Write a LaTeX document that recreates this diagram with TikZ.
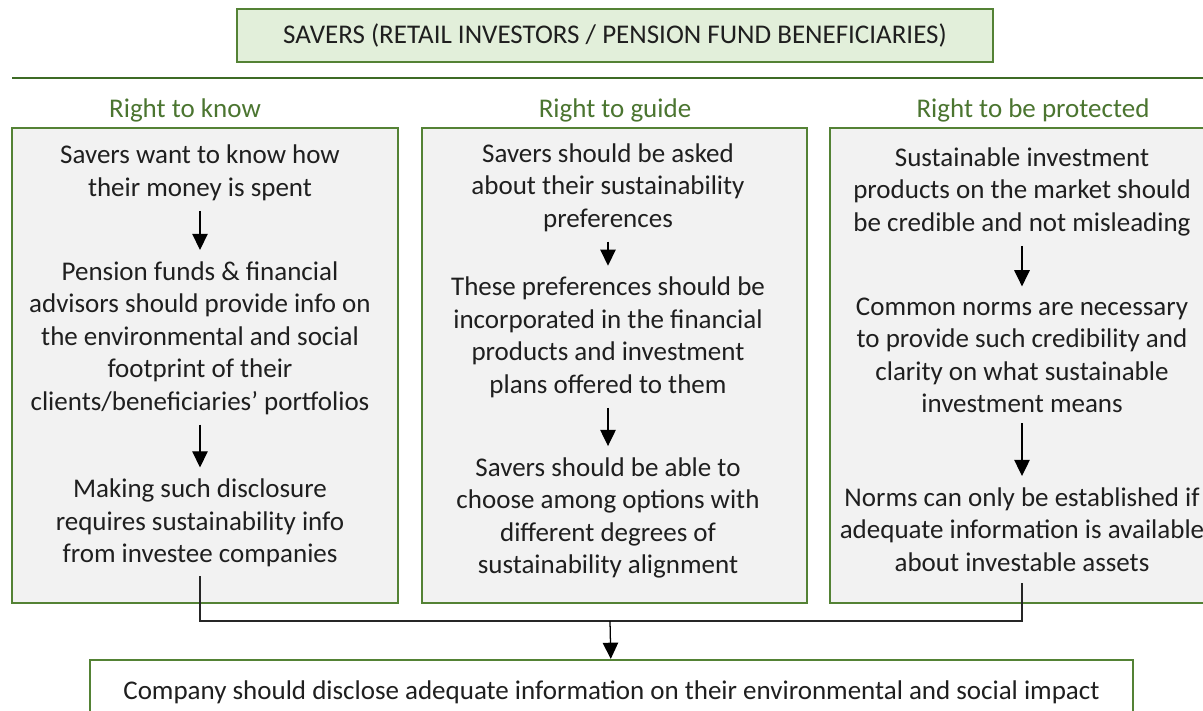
\documentclass[tikz,border=0pt]{standalone}
\usepackage{fontspec}
\setmainfont{Carlito}
\usepackage{tikz}
\usetikzlibrary{arrows.meta}

\definecolor{leaf}{HTML}{548235}
\definecolor{darkleaf}{HTML}{3D6B25}
\definecolor{mint}{HTML}{E2EFDA}
\definecolor{paper}{HTML}{F2F2F2}
\definecolor{ink}{HTML}{1F1F1F}

\begin{document}
\begin{tikzpicture}[x=0.025cm,y=-0.025cm]

	\tikzset{panel/.style = {draw=leaf,line width=1.6pt,fill=paper,inner sep=0pt}}
	\tikzset{claim/.style = {align=center,text=ink,inner sep=2pt,font=\fontsize{19.2pt}{23.1pt}\selectfont}}
	\tikzset{heading/.style = {text=leaf!90!black,font=\fontsize{19.2pt}{23.1pt}\selectfont}}
	\tikzset{edge/.style = {-{Triangle[width=11pt,length=11.5pt]},line width=0.9pt,black,shorten <=5pt,shorten >=6pt}}
	\tikzset{link/.style = {line width=0.9pt,black!85}}

	\useasboundingbox (0,0) rectangle (1203,710);
	\clip (0,0) rectangle (1203,710);

	% savers on top
	\node[draw=leaf,line width=1.6pt,fill=mint,minimum width=18.9cm,minimum height=1.325cm,
		font=\fontsize{19.2pt}{23.1pt}\selectfont,text=ink] (savers) at (615,35.5)
		{SAVERS (RETAIL INVESTORS / PENSION FUND BENEFICIARIES)};
	\draw[darkleaf,line width=2pt] (12,78) -- (1215,78);

	% the three rights
	\node[heading] (hknow) at (185,110) {Right to know};
	\node[heading] (hguide) at (615,110) {Right to guide};
	\node[heading] (hprot) at (1033,110) {Right to be protected};

	\node[panel,minimum width=9.65cm,minimum height=11.875cm] (know) at (205,365.5) {};
	\node[panel,minimum width=9.625cm,minimum height=11.875cm] (guide) at (614.5,365.5) {};
	\node[panel,minimum width=9.85cm,minimum height=11.875cm] (prot) at (1027,365.5) {};

	% right to know
	\node[claim] (k1) at (200,173) {Savers want to know how\\their money is spent};
	\node[claim] (k2) at (200,338) {Pension funds \& financial\\advisors should provide info on\\the environmental and social\\footprint of their\\clients/beneficiaries’ portfolios};
	\node[claim] (k3) at (200,523) {Making such disclosure\\requires sustainability info\\from investee companies};

	% right to guide
	\node[claim] (g1) at (608,187.5) {Savers should be asked\\about their sustainability\\preferences};
	\node[claim] (g2) at (608,337.5) {These preferences should be\\incorporated in the financial\\products and investment\\plans offered to them};
	\node[claim] (g3) at (608,518) {Savers should be able to\\choose among options with\\different degrees of\\sustainability alignment};

	% right to be protected
	\node[claim] (p1) at (1022,191.5) {Sustainable investment\\products on the market should\\be credible and not misleading};
	\node[claim] (p2) at (1022,355.5) {Common norms are necessary\\to provide such credibility and\\clarity on what sustainable\\investment means};
	\node[claim] (p3) at (1022,529.5) {Norms can only be established if\\adequate information is available\\about investable assets};

	% what companies have to do
	\node[draw=leaf,line width=1.6pt,fill=white,minimum width=26.075cm,minimum height=1.6cm,
		font=\fontsize{19.2pt}{23.1pt}\selectfont,text=ink] (impact) at (611.5,692)
		{Company should disclose adequate information on their environmental and social impact};

	%edges
	\draw[edge] (k1) -- (k2);
	\draw[edge] (k2) -- (k3);
	\draw[edge] (g1) -- (g2);
	\draw[edge] (g2) -- (g3);
	\draw[edge] (p1) -- (p2);
	\draw[edge] (p2) -- (p3);

	\coordinate (join) at (610,621);
	\draw[link] ([yshift=-0.15cm]k3.south) |- (join) -| ([yshift=-0.2cm]p3.south);
	\draw[edge,shorten <=0pt,shorten >=0pt] (join) -- (impact);
\end{tikzpicture}
\end{document}
